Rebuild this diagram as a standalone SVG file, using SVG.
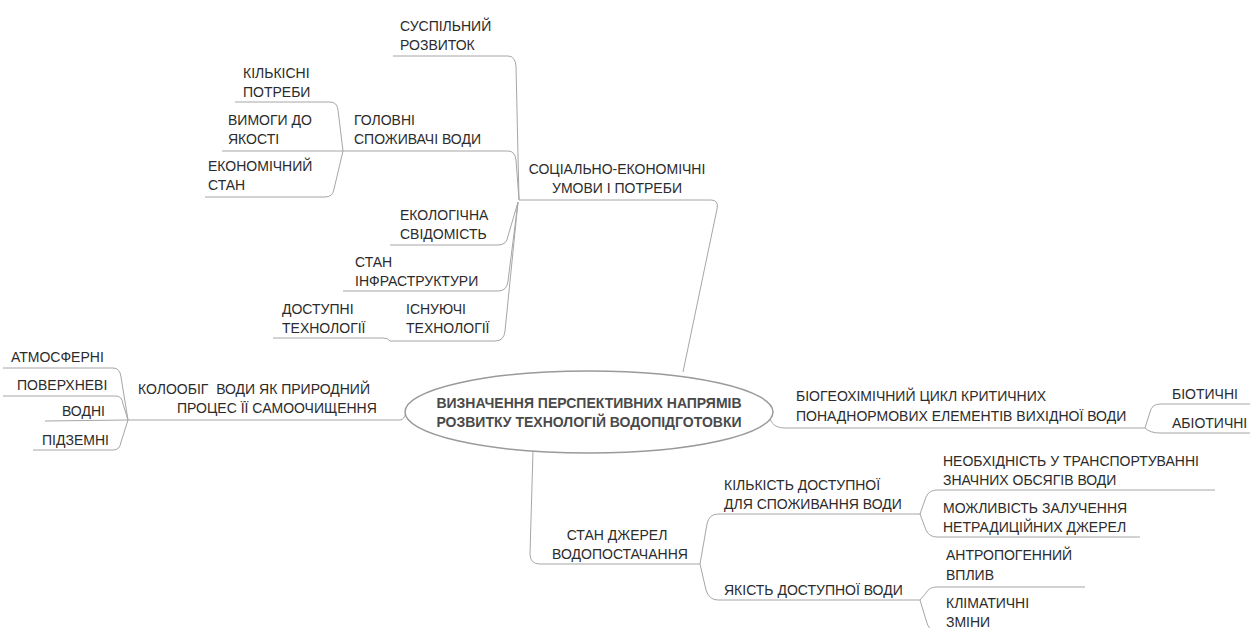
<svg xmlns="http://www.w3.org/2000/svg" width="1250" height="628" viewBox="0 0 1250 628">
<style>
.t{font-family:"Liberation Sans",Arial,sans-serif;font-size:14px;fill:#2b2b2b}
.m{text-anchor:middle}
.c{fill:none;stroke:#a6a6a6;stroke-width:1}
.ctr{font-family:"Liberation Sans",Arial,sans-serif;font-size:14px;font-weight:bold;fill:#4a4a4a;text-anchor:middle}
</style>
<rect width="1250" height="628" fill="#ffffff"/>
<g id="connectors">
  <path class="c" d="M519 200 L711 200 Q719 200 717 209 L683 372"/>
  <path class="c" d="M393 56 L508 56 Q515 56 516 66 L519 200"/>
  <path class="c" d="M343 151 L508 151 Q515 151 516 160 L519 200"/>
  <path class="c" d="M390 245 L498 245 Q507 245 508 236 L518 202"/>
  <path class="c" d="M343 291 L498 291 Q507 291 508 281 L518 202"/>
  <path class="c" d="M390 341 L495 341 Q504 341 505 331 L518 202"/>
  <path class="c" d="M235 102 L330 102 Q337 102 338 110 L343 151"/>
  <path class="c" d="M222 151 L343 151"/>
  <path class="c" d="M205 197 L325 197 Q333 197 334 189 L343 151"/>
  <path class="c" d="M273 338 L383 338 Q388 338 390 341"/>
  <path class="c" d="M128 420 L400 420 C406 420 406 410 408 404"/>
  <path class="c" d="M3 368 L113 368 Q120 368 121 377 L128 420"/>
  <path class="c" d="M3 396 L116 396 Q122 396 123 404 L128 420"/>
  <path class="c" d="M45 421 L128 420"/>
  <path class="c" d="M33 450 L113 450 Q120 450 121 442 L128 420"/>
  <path class="c" d="M770 419 C773 426 778 428 786 428 L1145 428"/>
  <path class="c" d="M1145 428 L1150 412 Q1152 404 1160 404 L1250 404"/>
  <path class="c" d="M1145 428 Q1150 433 1160 433 L1250 433"/>
  <path class="c" d="M533 451 L530 554 Q530 564 540 564 L700 564"/>
  <path class="c" d="M700 564 L707 524 Q709 514 718 514 L920 514"/>
  <path class="c" d="M700 564 L706 590 Q709 600 718 600 L920 600"/>
  <path class="c" d="M920 514 L926 497 Q929 490 937 490 L1215 490"/>
  <path class="c" d="M920 514 L926 530 Q929 537 937 537 L1140 537"/>
  <path class="c" d="M920 600 L926 593 Q929 587 937 587 L1085 587"/>
  <path class="c" d="M920 600 L926 620 Q929 632 937 632 L1000 632"/>
</g>
<g id="center">
  <ellipse cx="589" cy="412" rx="184" ry="41" fill="#ffffff" stroke="#9a9a9a" stroke-width="1.5"/>
  <text class="ctr" x="589" y="408">ВИЗНАЧЕННЯ ПЕРСПЕКТИВНИХ НАПРЯМІВ</text>
  <text class="ctr" x="589" y="427">РОЗВИТКУ ТЕХНОЛОГІЙ ВОДОПІДГОТОВКИ</text>
</g>
<g id="n-social"><text class="t m" x="617" y="174">СОЦІАЛЬНО-ЕКОНОМІЧНІ</text><text class="t m" x="617" y="193">УМОВИ І ПОТРЕБИ</text></g>
<g id="n-suspil"><text class="t" x="400" y="31">СУСПІЛЬНИЙ</text><text class="t" x="400" y="50">РОЗВИТОК</text></g>
<g id="n-holovni"><text class="t" x="354" y="125">ГОЛОВНІ</text><text class="t" x="354" y="144">СПОЖИВАЧІ ВОДИ</text></g>
<g id="n-kilkisni"><text class="t" x="243" y="78">КІЛЬКІСНІ</text><text class="t" x="243" y="97">ПОТРЕБИ</text></g>
<g id="n-vymohy"><text class="t" x="228" y="125">ВИМОГИ ДО</text><text class="t" x="228" y="144">ЯКОСТІ</text></g>
<g id="n-ekonom"><text class="t" x="208" y="171">ЕКОНОМІЧНИЙ</text><text class="t" x="208" y="190">СТАН</text></g>
<g id="n-ekolog"><text class="t" x="400" y="220">ЕКОЛОГІЧНА</text><text class="t" x="400" y="239">СВІДОМІСТЬ</text></g>
<g id="n-infra"><text class="t" x="355" y="267">СТАН</text><text class="t" x="355" y="286">ІНФРАСТРУКТУРИ</text></g>
<g id="n-dostupni"><text class="t" x="282" y="314">ДОСТУПНІ</text><text class="t" x="282" y="333">ТЕХНОЛОГІЇ</text></g>
<g id="n-isnuyuchi"><text class="t" x="406" y="314">ІСНУЮЧІ</text><text class="t" x="406" y="333">ТЕХНОЛОГІЇ</text></g>
<g id="n-koloobih"><text class="t" x="138" y="394" style="white-space:pre">КОЛООБІГ  ВОДИ ЯК ПРИРОДНИЙ</text><text class="t" x="177" y="413">ПРОЦЕС ЇЇ САМООЧИЩЕННЯ</text></g>
<g id="n-atmos"><text class="t" x="11" y="362">АТМОСФЕРНІ</text></g>
<g id="n-poverkh"><text class="t" x="17" y="390">ПОВЕРХНЕВІ</text></g>
<g id="n-vodni"><text class="t" x="62" y="416">ВОДНІ</text></g>
<g id="n-pidzem"><text class="t" x="42" y="445">ПІДЗЕМНІ</text></g>
<g id="n-biogeo"><text class="t" x="796" y="401">БІОГЕОХІМІЧНИЙ ЦИКЛ КРИТИЧНИХ</text><text class="t" x="796" y="421">ПОНАДНОРМОВИХ ЕЛЕМЕНТІВ ВИХІДНОЇ ВОДИ</text></g>
<g id="n-biot"><text class="t" x="1172" y="399">БІОТИЧНІ</text></g>
<g id="n-abiot"><text class="t" x="1172" y="428">АБІОТИЧНІ</text></g>
<g id="n-stan"><text class="t m" x="617" y="540">СТАН ДЖЕРЕЛ</text><text class="t m" x="620" y="559">ВОДОПОСТАЧАННЯ</text></g>
<g id="n-kilkist"><text class="t" x="724" y="490">КІЛЬКІСТЬ ДОСТУПНОЇ</text><text class="t" x="724" y="509">ДЛЯ СПОЖИВАННЯ ВОДИ</text></g>
<g id="n-yakist"><text class="t" x="724" y="595">ЯКІСТЬ ДОСТУПНОЇ ВОДИ</text></g>
<g id="n-neobkh"><text class="t" x="943" y="466">НЕОБХІДНІСТЬ У ТРАНСПОРТУВАННІ</text><text class="t" x="943" y="485">ЗНАЧНИХ ОБСЯГІВ ВОДИ</text></g>
<g id="n-mozhl"><text class="t" x="943" y="513">МОЖЛИВІСТЬ ЗАЛУЧЕННЯ</text><text class="t" x="943" y="532">НЕТРАДИЦІЙНИХ ДЖЕРЕЛ</text></g>
<g id="n-antrop"><text class="t" x="946" y="560">АНТРОПОГЕННИЙ</text><text class="t" x="946" y="580">ВПЛИВ</text></g>
<g id="n-klim"><text class="t" x="946" y="608">КЛІМАТИЧНІ</text><text class="t" x="946" y="627">ЗМІНИ</text></g>
</svg>
